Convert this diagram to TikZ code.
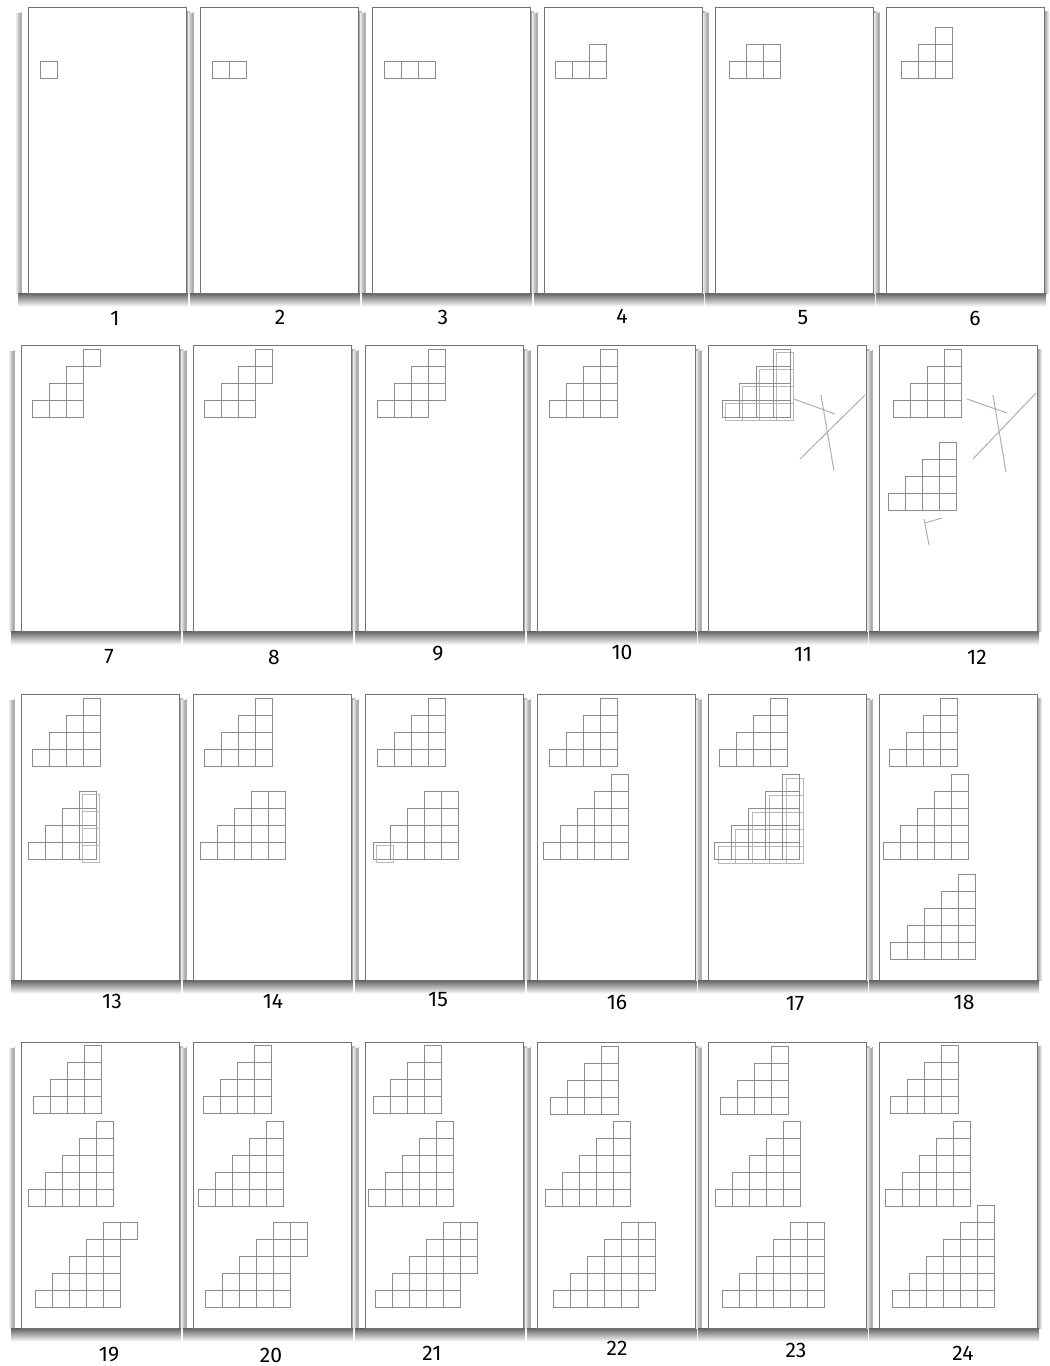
\documentclass[tikz,border=0pt]{standalone}
\usepackage{fontspec}
\setsansfont{Fira Sans}
\usepackage{tikz}
\usetikzlibrary{calc}

% staircase of unit squares, bottom-left corner at (#2,#3), list of col/from/to
\newcommand{\stairs}[4][sq]{%
  \edef\stairlist{#4}%
  \foreach \cl/\lo/\hi in \stairlist {%
    \foreach \rw in {\lo,...,\hi} {%
      \draw[#1] ({#2+(\cl-1)*17},{#3-(\rw-1)*17}) rectangle +(17,-17);}}}

% one sheet with its shadow, top-left corner at (#1,#2)
\newcommand{\sheet}[2]{%
  \shade[left color=black!8, right color=black!40] ({#1-12},{#2+6}) rectangle ({#1-7},{#2+286});
  \shade[left color=black!42, right color=black!2] ({#1+158},{#2+4}) rectangle ({#1+163},{#2+286});
  \shade[top color=black!62, bottom color=black!3] ({#1-10},{#2+286}) rectangle ({#1+160},{#2+299});
  \fill[white]    ({#1-7},{#2+5})  rectangle ({#1+157},{#2+286});
  \draw[black!30] ({#1-7},{#2+5}) -- ({#1-7},{#2+286});
  \filldraw[page] (#1,#2) rectangle ({#1+158},{#2+286});}

\def\tthree{1/1/1,2/1/2,3/1/3}
\def\tfour{\tthree,4/1/4}
\def\tfive{\tfour,5/1/5}

\begin{document}
\begin{tikzpicture}[
  x=0.02cm, y=-0.02cm,
  every node/.style={font=\sffamily\fontsize{12}{14}\selectfont, inner sep=0pt},
  page/.style={fill=white, draw=black!55, line width=0.5pt},
  sq/.style={draw=black!45, line width=0.45pt},
  ghost/.style={draw=black!28, line width=0.45pt},
  sketch/.style={draw=black!32, line width=0.55pt},
]
\useasboundingbox (0,0) rectangle (1050,1366);
\fill[white] (0,0) rectangle (1050,1366);

% sheets
\foreach \tp/\sh in {7/7,345/0,694/0,1042/0}
  \foreach \lf in {21,193,365,537,708,879}
    \sheet{\lf+\sh}{\tp};

% numbers
\foreach \n/\x/\y in {1/115/318, 2/280/317, 3/443/317, 4/622/316, 5/803/318, 6/975/318,
    7/109/657, 8/274/657, 9/438/654, 10/622/652, 11/803/654, 12/977/657,
    13/112/1001, 14/273/1001, 15/438/1000, 16/617/1002, 17/795/1004, 18/964/1002,
    19/109/1355, 20/271/1355, 21/432/1353, 22/617/1348, 23/796/1350, 24/963/1353}
  \node (l\n) at (\x,\y) {\n};

% row 1
\stairs{40}{78}{1/1/1}
\stairs{212}{78}{1/1/1,2/1/1}
\stairs{384}{78}{1/1/1,2/1/1,3/1/1}
\stairs{555}{78}{1/1/1,2/1/1,3/1/2}
\stairs{729}{78}{1/1/1,2/1/2,3/1/2}
\stairs{901}{78}{\tthree}

% row 2
\stairs{32}{417}{\tthree,4/4/4}
\stairs{204}{417}{\tthree,4/3/4}
\stairs{377}{417}{\tthree,4/2/4}
\stairs{549}{417}{\tfour}
\stairs[ghost]{725}{420}{\tfour}
\stairs{722}{417}{\tfour}
\draw[sketch] (794,399) -- (835,414);
\draw[sketch] (821,395) -- (834,471);
\draw[sketch] (865,395) -- (800,459);
\stairs{893}{417}{\tfour}
\stairs{888}{510}{\tfour}
\draw[sketch] (967,399) -- (1007,413);
\draw[sketch] (993,395) -- (1006,472);
\draw[sketch] (1036,393) -- (973,459);
\draw[sketch] (924,519) -- (929,545);
\draw[sketch] (925,523) -- (942,518);

% row 3
\stairs{32}{766}{\tfour}
\stairs{28}{859}{\tfour}
\stairs[ghost]{31}{862}{4/1/4}
\stairs{204}{766}{\tfour}
\stairs{200}{859}{\tfour,5/1/4}
\stairs{377}{766}{\tfour}
\stairs{373}{859}{\tfour,5/1/4}
\stairs[ghost]{376}{862}{1/1/1}
\stairs{549}{766}{\tfour}
\stairs{543}{859}{\tfive}
\stairs{719}{766}{\tfour}
\stairs[ghost]{718}{863}{\tfive}
\stairs{714}{859}{\tfive}
\stairs{889}{766}{\tfour}
\stairs{883}{859}{\tfive}
\stairs{890}{959}{\tfive}

% row 4
\stairs{33}{1113}{\tfour}
\stairs{28}{1206}{\tfive}
\stairs{35}{1307}{\tfive,6/5/5}
\stairs{203}{1113}{\tfour}
\stairs{198}{1206}{\tfive}
\stairs{205}{1307}{\tfive,6/4/5}
\stairs{373}{1113}{\tfour}
\stairs{368}{1206}{\tfive}
\stairs{375}{1307}{\tfive,6/3/5}
\stairs{550}{1114}{\tfour}
\stairs{545}{1206}{\tfive}
\stairs{553}{1307}{\tfive,6/2/5}
\stairs{720}{1114}{\tfour}
\stairs{715}{1206}{\tfive}
\stairs{722}{1307}{\tfive,6/1/5}
\stairs{890}{1113}{\tfour}
\stairs{885}{1206}{\tfive}
\stairs{892}{1307}{\tfive,6/1/6}
\end{tikzpicture}
\end{document}
